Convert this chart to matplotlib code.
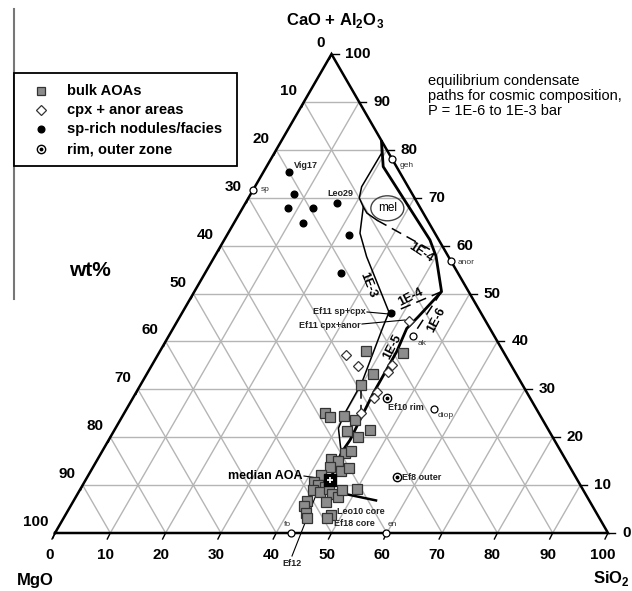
import numpy as np
import matplotlib.pyplot as plt
from matplotlib.patches import Ellipse, Rectangle

plt.rcParams['font.family'] = 'Liberation Sans'
plt.rcParams['mathtext.fontset'] = 'custom'
plt.rcParams['mathtext.bf'] = 'Liberation Sans:bold'
plt.rcParams['mathtext.rm'] = 'Liberation Sans'

# ---- data (wt%: SiO2 and CaO+Al2O3, MgO is the rest) ----
aoa_sio2 = [37.2, 44.1, 41.0, 39.8, 36.3, 37.7, 40.0, 42.5, 46.2, 42.1, 44.7, 44.0,
            45.0, 42.2, 43.7, 42.9, 45.2, 46.5, 42.0, 41.4, 42.6, 44.0, 42.2, 43.7,
            45.0, 46.0, 47.4, 47.4, 50.0, 42.2, 42.2, 43.3, 44.0, 45.8, 48.0, 47.7]
aoa_cao = [38.0, 37.6, 33.1, 31.0, 25.1, 24.2, 24.4, 23.6, 21.6, 21.3, 20.1, 16.8,
           17.1, 15.4, 15.0, 13.7, 13.0, 13.5, 12.2, 10.7, 10.0, 9.6, 9.0, 8.5,
           9.1, 8.1, 7.6, 8.9, 9.1, 6.7, 5.6, 4.2, 3.1, 6.5, 3.8, 3.1]
median_sio2 = [44.2]
median_cao = [11.1]

cpx_sio2 = [41.8, 34.0, 37.4, 43.3, 43.5, 43.5, 43.6, 42.8]
cpx_cao = [44.3, 37.1, 34.9, 35.1, 33.6, 29.4, 28.1, 25.0]

sp_sio2 = [4.7, 7.8, 8.2, 12.7, 12.4, 16.5, 22.1, 24.7, 37.8]
sp_cao = [75.4, 70.8, 67.8, 67.8, 64.8, 69.0, 62.2, 54.2, 45.9]

rim_sio2 = [45.9, 55.9]
rim_cao = [28.1, 11.75]

min_names = ['sp', 'geh', 'anor', 'ak', 'diop', 'fo', 'en']
min_sio2 = [0.0, 21.9, 43.2, 44.1, 55.5, 42.7, 59.9]
min_cao = [71.7, 78.1, 56.8, 41.1, 25.9, 0.0, 0.0]

# condensation paths
p5_sio2 = [18.2, 21.1, 29.2, 37.2, 40.0, 44.7, 43.1, 42.25, 42.85, 42.9, 42.96, 43.25, 43.65, 43.4, 43.75, 44.15]
p5_cao = [81.7, 76.5, 68.8, 61.2, 57.8, 50.4, 45.1, 42.7, 37.9, 34.7, 29.2, 25.0, 19.4, 16.9, 14.1, 11.5]
p3_sio2 = [18.2, 19.4, 19.3, 20.05, 21.7, 23.85, 27.5, 37.35, 37.8, 39.8, 39.9, 40.3, 43.05]
p3_cao = [81.7, 79.3, 72.3, 69.95, 68.1, 62.6, 57.7, 46.1, 43.0, 31.3, 25.05, 21.9, 17.3]
mel_sio2 = [21.7, 23.0, 25.6]
mel_cao = [68.1, 66.8, 65.3]
p4b_sio2 = [25.6, 38.2]
p4b_cao = [65.3, 59.2]
p4a_sio2 = [44.7, 37.8]
p4a_cao = [50.4, 45.9]
p6_sio2 = [44.7, 44.1]
p6_cao = [50.4, 41.4]
tie_sio2 = [46.5, 54.65]
tie_cao = [8.56, 6.8]
ef_sio2 = [40.2, 42.5]
ef_cao = [30.3, 25.7]

ticks = list(range(0, 101, 10))

# triangle in pixel space
X0, Y0, SIDE = 55.0, 533.0, 553.0
H = SIDE * np.sqrt(3) / 2


def tern(sio2, cao):
    s = np.asarray(sio2, float)
    c = np.asarray(cao, float)
    return X0 + SIDE * (s + c / 2) / 100, Y0 - H * c / 100


fig = plt.figure(figsize=(6.32, 5.91), dpi=100)
ax = fig.add_axes([0, 0, 1, 1])
ax.set_xlim(0, 632)
ax.set_ylim(591, 0)
ax.axis('off')

grid = '#b5b5b5'
for k in range(10, 100, 10):
    x, y = tern([0, 100 - k], [k, k])
    ax.plot(x, y, color=grid, lw=1.0, zorder=1)
    x, y = tern([k, k], [0, 100 - k])
    ax.plot(x, y, color=grid, lw=1.0, zorder=1)
    x, y = tern([100 - k, 0], [0, 100 - k])
    ax.plot(x, y, color=grid, lw=1.0, zorder=1)

x, y = tern([0, 100, 0, 0], [0, 0, 100, 0])
ax.plot(x, y, color='black', lw=1.8, zorder=2, solid_joinstyle='miter')

tfont = dict(fontsize=11, fontweight='bold')
for k in ticks:
    bx, by = tern(k, 0)
    ax.plot([bx, bx - 3], [by, by + 6], color='black', lw=1)
    ax.text(bx - 5, 555, str(k), ha='center', va='center', **tfont)
    rx, ry = tern(100 - k, k)
    ax.plot([rx, rx + 7], [ry, ry], color='black', lw=1)
    ax.text(rx + 14, ry, str(k), ha='left', va='center', **tfont)
    lx, ly = tern(0, 100 - k)
    ax.plot([lx, lx - 2], [ly, ly + 5], color='black', lw=1)
    ax.text(lx - 7, ly - 11, str(k), ha='right', va='center', **tfont)

# paths
x, y = tern(p5_sio2, p5_cao)
ax.plot(x, y, color='black', lw=2.0, zorder=3)
x, y = tern(p3_sio2, p3_cao)
ax.plot(x, y, color='black', lw=1.1, zorder=3)
x, y = tern(mel_sio2, mel_cao)
ax.plot(x, y, color='black', lw=1.1, zorder=3)
for s, c in [(p4b_sio2, p4b_cao), (p4a_sio2, p4a_cao), (p6_sio2, p6_cao), (ef_sio2, ef_cao)]:
    x, y = tern(s, c)
    ax.plot(x, y, color='black', lw=1.1, ls=(0, (7, 4)), zorder=3)
x, y = tern(tie_sio2, tie_cao)
ax.plot(x, y, color='black', lw=1.8, zorder=3)

mx, my = tern(26.2, 67.8)
ax.add_patch(Ellipse((mx, my), 33, 25, fill=False, ec='#444444', lw=1.0, zorder=3))
ax.text(mx, my, 'mel', ha='center', va='center', fontsize=8.5)

# markers
x, y = tern(aoa_sio2, aoa_cao)
ax.plot(x, y, ls='none', marker='s', ms=6.5, mfc='#8c8c8c', mec='#333333', mew=0.9, zorder=5)
x, y = tern(cpx_sio2, cpx_cao)
ax.plot(x, y, ls='none', marker='D', ms=5.5, mfc='white', mec='#333333', mew=0.9, zorder=5)
x, y = tern(sp_sio2, sp_cao)
ax.plot(x, y, ls='none', marker='o', ms=4.8, mfc='black', mec='black', zorder=5)
x, y = tern(rim_sio2, rim_cao)
ax.plot(x, y, ls='none', marker='o', ms=6, mfc='white', mec='black', mew=1.0, zorder=5)
ax.plot(x, y, ls='none', marker='o', ms=1.8, mfc='black', mec='black', zorder=6)
x, y = tern(min_sio2, min_cao)
ax.plot(x, y, ls='none', marker='o', ms=5, mfc='white', mec='black', mew=0.9, zorder=5)
x, y = tern(median_sio2, median_cao)
ax.plot(x, y, ls='none', marker='s', ms=8.5, mfc='black', mec='black', zorder=6)
ax.plot(x, y, ls='none', marker='+', ms=5, mec='white', mew=1.3, zorder=7)

# mineral labels
offs = {'sp': (8, 0, 'left'), 'geh': (8, 7, 'left'), 'anor': (7, 2, 'left'),
        'ak': (5, 7, 'left'), 'diop': (4, 7, 'left'), 'fo': (-4, -8, 'center'),
        'en': (6, -8, 'center')}
for n, s, c in zip(min_names, min_sio2, min_cao):
    px, py = tern(s, c)
    dx, dy, ha = offs[n]
    ax.text(px + dx, py + dy, n, ha=ha, va='center', fontsize=6, color='#333333')

sfont = dict(fontsize=6.5, fontweight='bold', color='#222222')
ax.text(306, 165, 'Vig17', ha='center', va='center', **sfont)
ax.text(340, 193, 'Leo29', ha='center', va='center', **sfont)
ax.text(366, 312, 'Ef11 sp+cpx', ha='right', va='center', **sfont)
ax.plot([367, 389], [312, 314], color='black', lw=0.8)
ax.text(361, 325, 'Ef11 cpx+anor', ha='right', va='center', **sfont)
ax.plot([362, 405], [324, 320], color='black', lw=0.8)
ax.text(388, 407, 'Ef10 rim', ha='left', va='center', **sfont)
ax.text(402, 477, 'Ef8 outer', ha='left', va='center', **sfont)
ax.text(337, 512, 'Leo10 core', ha='left', va='center', **sfont)
ax.text(334, 523, 'Ef18 core', ha='left', va='center', **sfont)
ax.text(292, 564, 'Ef12', ha='center', va='center', **sfont)
ax.plot([318, 292], [490, 556], color='black', lw=0.8)
ax.text(302, 476, 'median AOA', ha='right', va='center', fontsize=9, fontweight='bold')
ax.plot([304, 325], [476, 479], color='black', lw=0.8)

pfont = dict(fontsize=9, fontweight='bold', ha='center', va='center')
ax.text(368, 285, '1E-3', rotation=-68, **pfont)
ax.text(421, 253, '1E-4', rotation=-33, **pfont)
ax.text(411, 297, '1E-4', rotation=27, **pfont)
ax.text(393, 347, '1E-5', rotation=63, **pfont)
ax.text(437, 320, '1E-6', rotation=63, **pfont)

# axis names
ax.text(335, 20, r'CaO + Al$_\mathbf{2}$O$_\mathbf{3}$', ha='center', va='center',
        fontsize=12, fontweight='bold')
ax.text(35, 580, 'MgO', ha='center', va='center', fontsize=12, fontweight='bold')
ax.text(630, 579, r'SiO$_\mathbf{2}$', ha='right', va='center', fontsize=12, fontweight='bold')
ax.text(90, 270, 'wt%', ha='center', va='center', fontsize=15, fontweight='bold')

ax.text(428, 96, 'equilibrium condensate\npaths for cosmic composition,\nP = 1E-6 to 1E-3 bar',
        ha='left', va='center', fontsize=10.5, linespacing=1.05)

# left rule and legend
ax.plot([14, 14], [9, 299], color='#777777', lw=1.5)
ax.add_patch(Rectangle((14, 73), 223, 93, fill=True, fc='white', ec='black', lw=1.3, zorder=8))
lx = 41
ax.plot(lx, 91, marker='s', ms=6, mfc='#8c8c8c', mec='#333333', mew=0.9, zorder=9)
ax.plot(lx, 110, marker='D', ms=5.5, mfc='white', mec='#333333', mew=0.9, zorder=9)
ax.plot(lx, 129, marker='o', ms=4.8, mfc='black', mec='black', zorder=9)
ax.plot(lx, 149, marker='o', ms=6, mfc='white', mec='black', mew=1.0, zorder=9)
ax.plot(lx, 149, marker='o', ms=1.8, mfc='black', mec='black', zorder=10)
for yy, t in zip([91, 110, 129, 149], ['bulk AOAs', 'cpx + anor areas', 'sp-rich nodules/facies', 'rim, outer zone']):
    ax.text(67, yy, t, ha='left', va='center', fontsize=10.5, fontweight='bold', zorder=9)

fig.savefig('out.png', dpi=100)
